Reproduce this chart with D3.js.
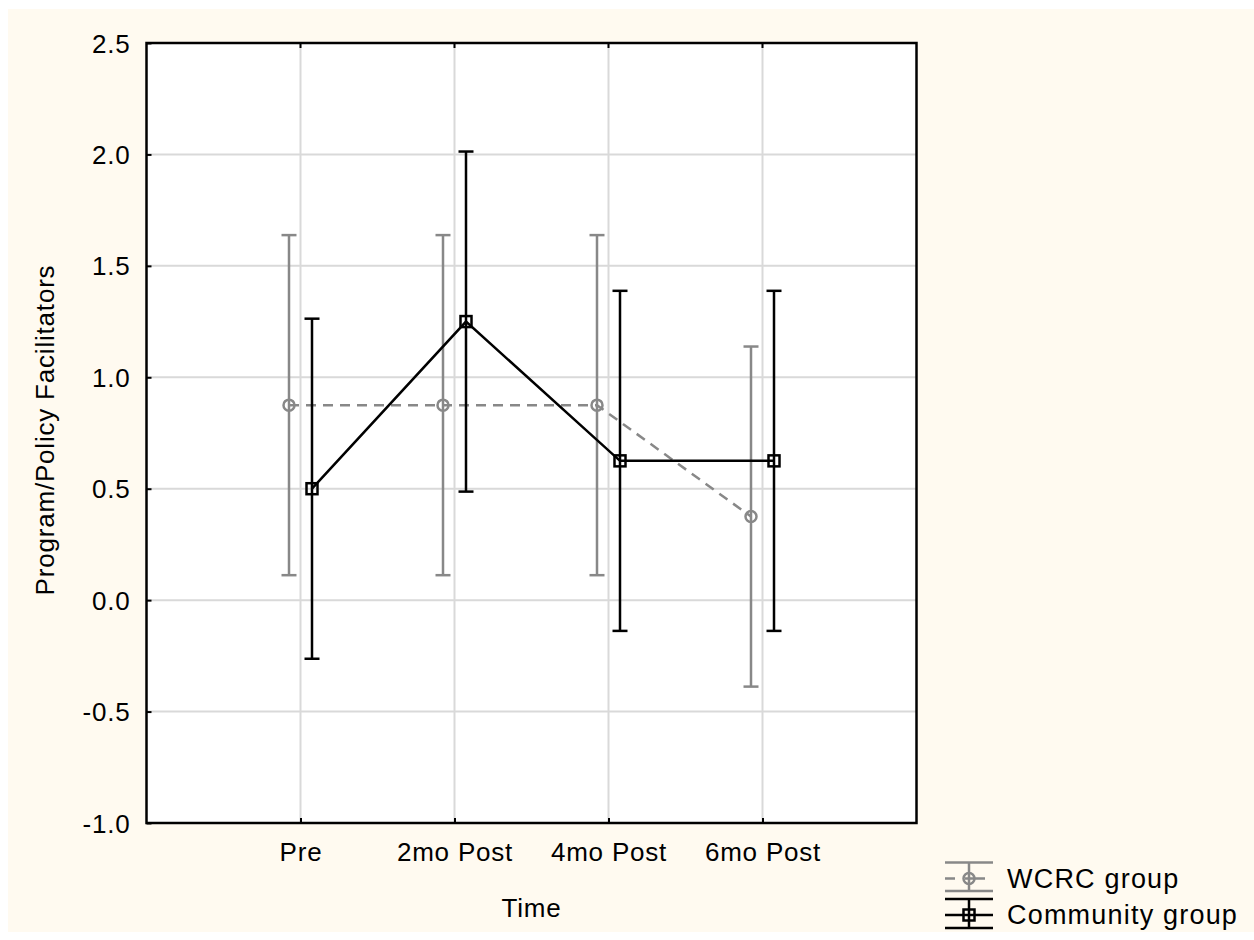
<!DOCTYPE html>
<html>
<head>
<meta charset="utf-8">
<script src="https://cdn.jsdelivr.net/npm/d3@7"></script>
<style>
  html, body { margin: 0; padding: 0; background: #ffffff; }
  svg { display: block; }
  text { font-family: "Liberation Sans", Arial, sans-serif; fill: #000; }
</style>
</head>
<body>
<svg id="chart" width="1254" height="940"></svg>
<script>
const timePoints = ["Pre", "2mo Post", "4mo Post", "6mo Post"];
const yTicks = [-1.0, -0.5, 0.0, 0.5, 1.0, 1.5, 2.0, 2.5];

const wcrcMean = [0.875, 0.875, 0.875, 0.375];
const wcrcErr  = [0.763, 0.763, 0.763, 0.763];
const commMean = [0.5, 1.25, 0.625, 0.625];
const commErr  = [0.763, 0.763, 0.763, 0.763];

const series = [
    { name: "WCRC group", mean: wcrcMean, err: wcrcErr, color: "#888888", dash: "10,7", marker: "circle", offset: -11.5 },
    { name: "Community group", mean: commMean, err: commErr, color: "#000000", dash: null, marker: "square", offset: 11.5 }
];

const W = 1254, H = 940;
const plot = { left: 146.5, right: 916.5, top: 43, bottom: 823 };
const FONT = 26;

const svg = d3.select("#chart");

// cream backdrop
svg.append("rect")
    .attr("x", 8).attr("y", 9)
    .attr("width", W - 8).attr("height", 932 - 9)
    .attr("fill", "#fffaf0");

const x = d3.scalePoint()
    .domain(timePoints)
    .range([plot.left, plot.right])
    .padding(1);

const y = d3.scaleLinear()
    .domain([-1, 2.5])
    .range([plot.bottom, plot.top]);

// plot area
svg.append("rect")
    .attr("x", plot.left).attr("y", plot.top)
    .attr("width", plot.right - plot.left).attr("height", plot.bottom - plot.top)
    .attr("fill", "#ffffff");

// grid
const grid = svg.append("g").attr("stroke", "#d9d9d9").attr("stroke-width", 2);
grid.selectAll("line.h")
    .data(yTicks.filter(d => d > -1 && d < 2.5))
    .join("line")
    .attr("class", "h")
    .attr("x1", plot.left).attr("x2", plot.right)
    .attr("y1", d => y(d)).attr("y2", d => y(d));
grid.selectAll("line.v")
    .data(timePoints)
    .join("line")
    .attr("class", "v")
    .attr("x1", d => x(d)).attr("x2", d => x(d))
    .attr("y1", plot.top).attr("y2", plot.bottom);

// axes (inward ticks)
const yAxis = d3.axisLeft(y)
    .tickValues(yTicks)
    .tickSize(-5)
    .tickPadding(16)
    .tickFormat(d => d.toFixed(1));

const gy = svg.append("g")
    .attr("transform", `translate(${plot.left},0)`)
    .call(yAxis);
gy.select(".domain").remove();
gy.selectAll(".tick line").attr("stroke", "#000").attr("stroke-width", 2);
gy.selectAll(".tick text")
    .attr("font-size", FONT)
    .attr("letter-spacing", "0.8px")
    .attr("dy", "0.35em");

const xAxis = d3.axisBottom(x).tickSize(-5).tickPadding(20);
const gx = svg.append("g")
    .attr("transform", `translate(0,${plot.bottom})`)
    .call(xAxis);
gx.select(".domain").remove();
gx.selectAll(".tick line").attr("stroke", "#000").attr("stroke-width", 2);
gx.selectAll(".tick text")
    .attr("font-size", FONT)
    .attr("letter-spacing", "0.8px")
    .attr("dy", "0.71em");

// top ticks
svg.append("g").selectAll("line")
    .data(timePoints)
    .join("line")
    .attr("x1", d => x(d)).attr("x2", d => x(d))
    .attr("y1", plot.top).attr("y2", plot.top + 5)
    .attr("stroke", "#000").attr("stroke-width", 2);

// frame
svg.append("rect")
    .attr("x", plot.left).attr("y", plot.top)
    .attr("width", plot.right - plot.left).attr("height", plot.bottom - plot.top)
    .attr("fill", "none")
    .attr("stroke", "#000")
    .attr("stroke-width", 2.5);

// axis titles
svg.append("text")
    .attr("x", (plot.left + plot.right) / 2)
    .attr("y", 917)
    .attr("text-anchor", "middle")
    .attr("font-size", FONT)
    .attr("letter-spacing", "0.8px")
    .text("Time");

svg.append("text")
    .attr("transform", `translate(54,${(plot.top + plot.bottom) / 2 - 3}) rotate(-90)`)
    .attr("text-anchor", "middle")
    .attr("font-size", FONT)
    .attr("letter-spacing", "0.8px")
    .text("Program/Policy Facilitators");

// series
const capHalf = 7.5;
series.forEach(s => {
    const g = svg.append("g");
    const pts = timePoints.map((t, i) => ({ t, m: s.mean[i], e: s.err[i], cx: x(t) + s.offset }));

    // error bars
    const eb = g.append("g").attr("stroke", s.color).attr("stroke-width", 2.5);
    eb.selectAll("line.stem").data(pts).join("line")
        .attr("x1", d => d.cx).attr("x2", d => d.cx)
        .attr("y1", d => y(d.m + d.e)).attr("y2", d => y(d.m - d.e));
    eb.selectAll("line.capT").data(pts).join("line")
        .attr("x1", d => d.cx - capHalf).attr("x2", d => d.cx + capHalf)
        .attr("y1", d => y(d.m + d.e)).attr("y2", d => y(d.m + d.e));
    eb.selectAll("line.capB").data(pts).join("line")
        .attr("x1", d => d.cx - capHalf).attr("x2", d => d.cx + capHalf)
        .attr("y1", d => y(d.m - d.e)).attr("y2", d => y(d.m - d.e));

    // connecting line
    const line = d3.line().x(d => d.cx).y(d => y(d.m));
    g.append("path")
        .datum(pts)
        .attr("d", line)
        .attr("fill", "none")
        .attr("stroke", s.color)
        .attr("stroke-width", 2.5)
        .attr("stroke-dasharray", s.dash);

    // markers
    if (s.marker === "circle") {
        g.selectAll("circle").data(pts).join("circle")
            .attr("cx", d => d.cx).attr("cy", d => y(d.m))
            .attr("r", 5.5)
            .attr("fill", "none")
            .attr("stroke", s.color).attr("stroke-width", 2.5);
    } else {
        g.selectAll("rect").data(pts).join("rect")
            .attr("x", d => d.cx - 5.5).attr("y", d => y(d.m) - 5.5)
            .attr("width", 11).attr("height", 11)
            .attr("fill", "none")
            .attr("stroke", s.color).attr("stroke-width", 2.5);
    }
});

// legend
const legend = svg.append("g");
const legRows = [
    { s: series[0], top: 862.5, mid: 878.5, bottom: 891 },
    { s: series[1], top: 899, mid: 915, bottom: 928 }
];
const lx0 = 945, lx1 = 993, lcx = 969;
legRows.forEach(r => {
    const g = legend.append("g").attr("stroke", r.s.color).attr("stroke-width", 2.5);
    g.append("line").attr("x1", lx0).attr("x2", lx1).attr("y1", r.top).attr("y2", r.top);
    g.append("line").attr("x1", lx0).attr("x2", lx1).attr("y1", r.bottom).attr("y2", r.bottom);
    g.append("line").attr("x1", lcx).attr("x2", lcx).attr("y1", r.top).attr("y2", r.bottom);
    g.append("line").attr("x1", lx0).attr("x2", lx1).attr("y1", r.mid).attr("y2", r.mid)
        .attr("stroke-dasharray", r.s.dash ? "10,10,20,10,5" : null);
    if (r.s.marker === "circle") {
        g.append("circle").attr("cx", lcx).attr("cy", r.mid).attr("r", 5.5).attr("fill", "none");
    } else {
        g.append("rect").attr("x", lcx - 5.5).attr("y", r.mid - 5.5)
            .attr("width", 11).attr("height", 11).attr("fill", "none");
    }
    legend.append("text")
        .attr("x", 1007)
        .attr("y", r.mid)
        .attr("dy", "0.35em")
        .attr("font-size", 27)
        .attr("letter-spacing", "1.2px")
        .text(r.s.name);
});
</script>
</body>
</html>
